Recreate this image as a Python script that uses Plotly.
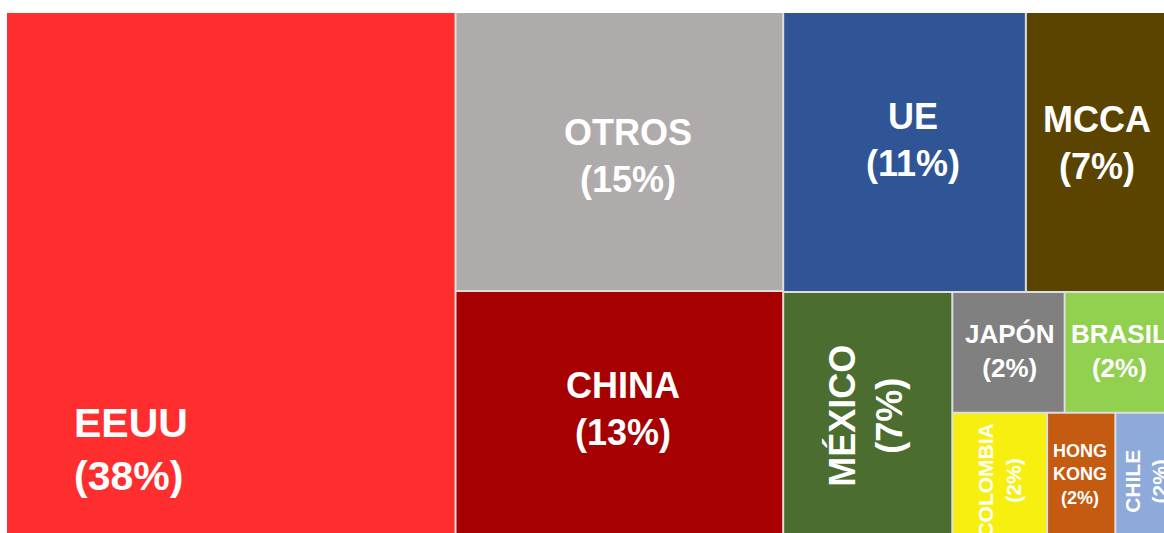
import plotly.graph_objects as go

# ---------------- data ----------------
countries = ["EEUU", "OTROS", "CHINA", "UE", "MCCA", "MÉXICO",
             "JAPÓN", "BRASIL", "COLOMBIA", "HONG KONG", "CHILE"]
share_labels = ["38%", "15%", "13%", "11%", "7%", "7%", "2%", "2%", "2%", "2%", "2%"]
# relative sizes estimated from the tile areas
sizes = [38.0, 14.8, 12.9, 11.0, 6.85, 6.63, 2.2, 2.2, 1.86, 1.34, 1.21]
colors = ["#FF2E2E", "#AFABAB", "#A60000", "#2F5597", "#5A4400", "#4B6E30",
          "#808080", "#92D050", "#F7EF10", "#C55A11", "#8EAADB"]

# grouping used only for the tile arrangement (slice/dice)
# order of the list = drawing order of the siblings
nodes = [  # (id, parent)
    ("root", ""),
    ("EEUU", "root"),
    ("g_col2", "root"),
    ("OTROS", "g_col2"),
    ("CHINA", "g_col2"),
    ("g_right", "root"),
    ("g_top", "g_right"),
    ("UE", "g_top"),
    ("MCCA", "g_top"),
    ("g_bottom", "g_right"),
    ("MÉXICO", "g_bottom"),
    ("g_small", "g_bottom"),
    ("g_rowA", "g_small"),
    ("JAPÓN", "g_rowA"),
    ("BRASIL", "g_rowA"),
    ("g_rowB", "g_small"),
    ("COLOMBIA", "g_rowB"),
    ("HONG KONG", "g_rowB"),
    ("CHILE", "g_rowB"),
]

# ---------------- styles ----------------
GROUP_COLOR = "#DEDEDE"
FONT = "Liberation Sans, Arial, sans-serif"
label_style = {
    # name: (font size, angle, text lines, dx px, dy px, anchor)
    "EEUU": (41, 0, "EEUU<br>(38%)", 65, None, "left"),
    "OTROS": (36, 0, None, 9, 4, "center"),
    "CHINA": (36, 0, None, 4, -3, "center"),
    "UE": (36, 0, None, 9, -12, "center"),
    "MCCA": (36, 0, None, -4, -9, "center"),
    "MÉXICO": (36, -90, None, -1, 3, "center"),
    "JAPÓN": (26, 0, None, 2, -1, "center"),
    "BRASIL": (26, 0, None, 0, -1, "center"),
    "COLOMBIA": (21, -90, None, 0, 8, "center"),
    "HONG KONG": (18, 0, "HONG<br>KONG<br>(2%)", 0, 2, "center"),
    "CHILE": (21, -90, None, 0, 9, "center"),
}

FIG_W, FIG_H = 1190, 533
M_L, M_R, M_T, M_B = 7, 14, 13, 0
PW, PH = FIG_W - M_L - M_R, FIG_H - M_T - M_B

# ---------------- build trace ----------------
size_of = dict(zip(countries, sizes))
color_of = dict(zip(countries, colors))
ids = [n for n, _ in nodes]
parents = [p for _, p in nodes]
values = [size_of.get(n, 0) for n in ids]
node_colors = [color_of.get(n, GROUP_COLOR) for n in ids]

fig = go.Figure(go.Treemap(
    ids=ids,
    labels=ids,
    parents=parents,
    values=values,
    branchvalues="remainder",
    sort=False,
    textinfo="none",
    hovertemplate="%{label}<extra></extra>",
    marker=dict(colors=node_colors, line=dict(width=0),
                pad=dict(t=0, l=0, r=0, b=0), depthfade=False),
    tiling=dict(packing="slice-dice", pad=2),
    pathbar=dict(visible=False),
    root=dict(color=GROUP_COLOR),
))

# ---------------- compute tile rectangles (same slice-dice rule) ----------------
children = {}
for n, p in nodes:
    children.setdefault(p, []).append(n)


def total(n):
    return size_of.get(n, 0) + sum(total(c) for c in children.get(n, []))


rects = {}


def arrange(n, x0, y0, x1, y1, depth):
    rects[n] = (x0, y0, x1, y1)
    ch = children.get(n, [])
    if not ch:
        return
    t = sum(total(c) for c in ch)
    pos = x0 if depth % 2 == 0 else y0
    for c in ch:
        f = total(c) / t
        if depth % 2 == 0:
            w = (x1 - x0) * f
            arrange(c, pos, y0, pos + w, y1, depth + 1)
            pos += w
        else:
            h = (y1 - y0) * f
            arrange(c, x0, pos, x1, pos + h, depth + 1)
            pos += h


arrange("root", 0, 0, PW, PH, 0)

annotations = []
for name, share in zip(countries, share_labels):
    size, angle, txt, dx, dy, anchor = label_style[name]
    x0, y0, x1, y1 = rects[name]
    if txt is None:
        txt = f"{name}<br>({share})"
    if anchor == "left":
        px = x0 + dx
        py = y0 + (y1 - y0) * 0.84
    else:
        px = (x0 + x1) / 2 + dx
        py = (y0 + y1) / 2 + dy
    annotations.append(dict(
        x=px / PW, y=1 - py / PH, xref="paper", yref="paper",
        text=f"<b>{txt}</b>", showarrow=False, textangle=angle,
        xanchor=anchor if angle == 0 else "center", yanchor="middle",
        align="left" if anchor == "left" else "center",
        font=dict(family=FONT, size=size, color="white"),
    ))

fig.update_layout(
    width=FIG_W, height=FIG_H,
    margin=dict(l=M_L, r=M_R, t=M_T, b=M_B),
    paper_bgcolor="white",
    annotations=annotations,
    showlegend=False,
)

fig.write_html(
    "out.html",
    config={"displayModeBar": False},
    post_script="document.body.style.margin='0';document.body.style.overflow='hidden';",
)
